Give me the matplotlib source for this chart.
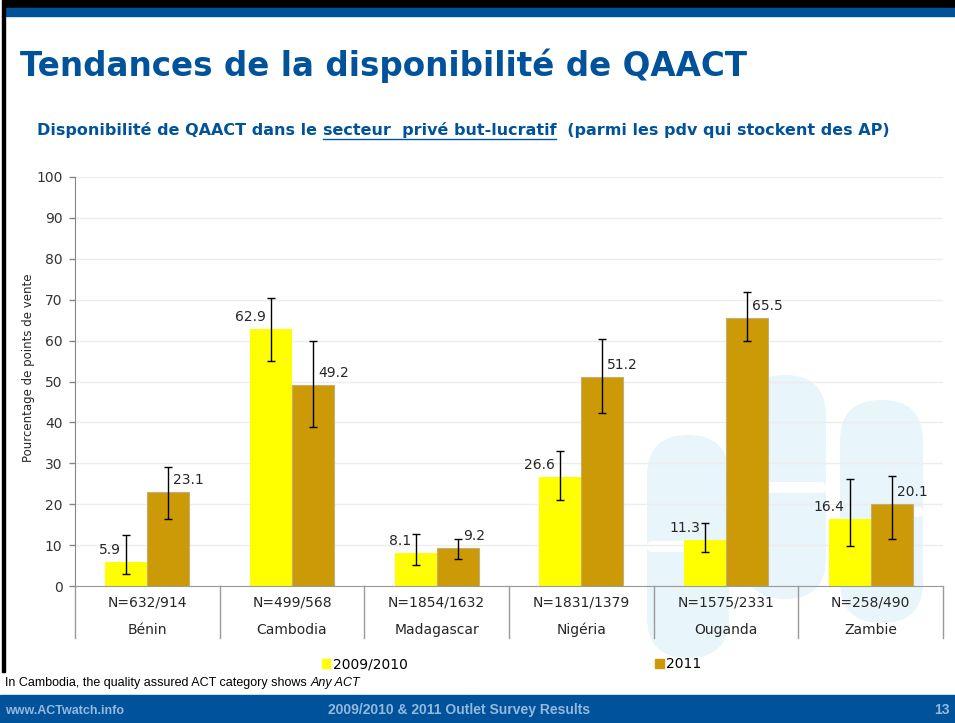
import matplotlib
matplotlib.use("Agg")
import matplotlib.pyplot as plt
import numpy as np
from matplotlib.patches import FancyBboxPatch, Rectangle, Patch
from matplotlib.transforms import IdentityTransform

# data
countries = ["Bénin", "Cambodia", "Madagascar", "Nigéria", "Ouganda", "Zambie"]
sample_sizes = ["N=632/914", "N=499/568", "N=1854/1632", "N=1831/1379", "N=1575/2331", "N=258/490"]
series_names = ["2009/2010", "2011"]
avail_2009 = [5.9, 62.9, 8.1, 26.6, 11.3, 16.4]
avail_2011 = [23.1, 49.2, 9.2, 51.2, 65.5, 20.1]
low_2009 = [2.9, 54.9, 5.1, 21.1, 8.3, 9.8]
high_2009 = [12.5, 70.5, 12.7, 33.1, 15.3, 26.1]
low_2011 = [16.5, 38.8, 6.5, 42.2, 59.9, 11.5]
high_2011 = [29.1, 59.8, 11.5, 60.5, 72.0, 27.0]

W, H = 955, 723
YELLOW = "#FFFF00"
GOLD = "#CC9A06"
BLUE = "#00539B"
TXT = "#262626"

fig = plt.figure(figsize=(W / 100, H / 100), dpi=100)
fig.patch.set_facecolor("white")


def fx(x):
    return x / W


def fy(y):
    return 1 - y / H


# slide frame: black top/left edge, blue band, footer band
fig.add_artist(Rectangle((fx(3), fy(8)), 1, 8 / H, transform=fig.transFigure, color="black", zorder=-3))
fig.add_artist(Rectangle((fx(6), fy(16)), 1, 8 / H, transform=fig.transFigure, color=BLUE, zorder=-3))
fig.add_artist(Rectangle((fx(2), fy(672)), 3 / W, 672 / H, transform=fig.transFigure, color="black", zorder=-3))
fig.add_artist(Rectangle((0, 0), 1, 28 / H, transform=fig.transFigure, color=BLUE, zorder=5))

# faint logo in the background (pixel coords)
def pill(x0, y0, x1, y1, r, color):
    p = FancyBboxPatch((x0, H - y1), x1 - x0, y1 - y0,
                       boxstyle="round,pad=0,rounding_size=%g" % r,
                       transform=IdentityTransform(), facecolor=color,
                       edgecolor="none", zorder=-2)
    fig.add_artist(p)

LOGO = "#E8F5FB"
pill(647, 435, 729, 658, 41, LOGO)
pill(744, 375, 826, 599, 41, LOGO)
pill(840, 400, 923, 623, 41, LOGO)
pill(647, 541, 735, 552, 5, "white")
pill(760, 482, 826, 493, 5, "white")
pill(880, 507, 923, 517, 5, "white")

# titles
fig.text(fx(20), fy(76), "Tendances de la disponibilité de QAACT", fontsize=23.5,
         fontweight="bold", color=BLUE, family="DejaVu Sans", va="baseline")

renderer = fig.canvas.get_renderer()
sub_parts = ["Disponibilité de QAACT dans le ", "secteur  privé but-lucratif", "  (parmi les pdv qui stockent des AP)"]
x_cur = 37
for k, part in enumerate(sub_parts):
    t = fig.text(fx(x_cur), fy(135), part, fontsize=11.5, fontweight="bold",
                 color=BLUE, family="DejaVu Sans", va="baseline")
    bb = t.get_window_extent(renderer)
    if k == 1:
        fig.add_artist(plt.Line2D([fx(x_cur), fx(x_cur + bb.width)], [fy(138.5), fy(138.5)],
                                  transform=fig.transFigure, color=BLUE, lw=1))
    x_cur += bb.width

# chart
ax = fig.add_axes([fx(75), fy(586), (943 - 75) / W, (586 - 177) / H])
ax.patch.set_visible(False)
x = np.arange(len(countries))
bw = 0.29
ax.bar(x - bw / 2, avail_2009, bw, color=YELLOW, zorder=2)
ax.bar(x + bw / 2, avail_2011, bw, color=GOLD, edgecolor="#C2AE78", linewidth=0.8, zorder=2)

v09 = np.array(avail_2009)
v11 = np.array(avail_2011)
ax.errorbar(x - bw / 2, v09, yerr=[v09 - np.array(low_2009), np.array(high_2009) - v09],
            fmt="none", ecolor="black", elinewidth=1, capsize=3, capthick=1, zorder=3)
ax.errorbar(x + bw / 2, v11, yerr=[v11 - np.array(low_2011), np.array(high_2011) - v11],
            fmt="none", ecolor="black", elinewidth=1, capsize=3, capthick=1, zorder=3)

for i in range(len(countries)):
    ax.annotate("%.1f" % avail_2009[i], xy=(x[i] - bw / 2, avail_2009[i]), xytext=(-5, 8),
                textcoords="offset pixels", ha="right", va="baseline", fontsize=10, color=TXT)
    ax.annotate("%.1f" % avail_2011[i], xy=(x[i] + bw / 2, avail_2011[i]), xytext=(5, 8),
                textcoords="offset pixels", ha="left", va="baseline", fontsize=10, color=TXT)

ax.set_xlim(-0.5, len(countries) - 0.5)
ax.set_ylim(0, 100)
ax.set_yticks(np.arange(0, 101, 10))
ax.yaxis.grid(True, color="#EDEDED", lw=1)
ax.set_axisbelow(True)
ax.tick_params(axis="y", length=4, width=1, color="#868686", labelsize=10, labelcolor="#333333", pad=5)
ax.set_xticks([])
for s in ["top", "right"]:
    ax.spines[s].set_visible(False)
ax.spines["left"].set_color("#868686")
ax.spines["bottom"].set_color("#9A9A9A")
ax.set_ylabel("Pourcentage de points de vente", fontsize=8.5, color=TXT)
ax.yaxis.set_label_coords(-(75 - 35) / (943 - 75), (586 - 368) / 409)

# category table under the axis
for b in np.arange(-0.5, len(countries), 1.0):
    ax.plot([b, b], [0, -52 / 409], transform=ax.get_xaxis_transform(), color="#9A9A9A",
            lw=1, clip_on=False)
for i in range(len(countries)):
    ax.annotate(sample_sizes[i], xy=(x[i], 0), xycoords=("data", "axes fraction"),
                xytext=(0, -17), textcoords="offset pixels", ha="center", va="center",
                fontsize=10, color=TXT)
    ax.annotate(countries[i], xy=(x[i], 0), xycoords=("data", "axes fraction"),
                xytext=(0, -44), textcoords="offset pixels", ha="center", va="center",
                fontsize=10, color=TXT)

handles = [Patch(color=YELLOW), Patch(color=GOLD)]
fig.legend(handles, series_names, loc="center left", bbox_to_anchor=(fx(322), fy(664)),
           ncol=2, frameon=False, fontsize=10, handlelength=0.6, handleheight=0.6,
           handletextpad=0.2, columnspacing=17.8, borderpad=0, borderaxespad=0)

# footnote
t = fig.text(fx(5), fy(686), "In Cambodia, the quality assured ACT category shows ", fontsize=9,
             family="Liberation Sans", color="black", va="baseline")
bb = t.get_window_extent(renderer)
fig.text(fx(5 + bb.width), fy(686), "Any ACT", fontsize=9, family="Liberation Sans",
         style="italic", color="black", va="baseline")

# footer texts
FOOT = "#94B8DE"
fig.text(fx(5), fy(714), "www.ACTwatch.info", fontsize=9, fontweight="bold",
         family="Liberation Sans", color=FOOT, va="baseline", zorder=6)
fig.text(fx(459), fy(714), "2009/2010 & 2011 Outlet Survey Results", fontsize=10,
         fontweight="bold", family="Liberation Sans", color=FOOT, va="baseline",
         ha="center", zorder=6)
fig.text(fx(950), fy(714), "13", fontsize=10, fontweight="bold",
         family="Liberation Sans", color=FOOT, va="baseline", ha="right", zorder=6)

fig.savefig("out.png", dpi=100)
